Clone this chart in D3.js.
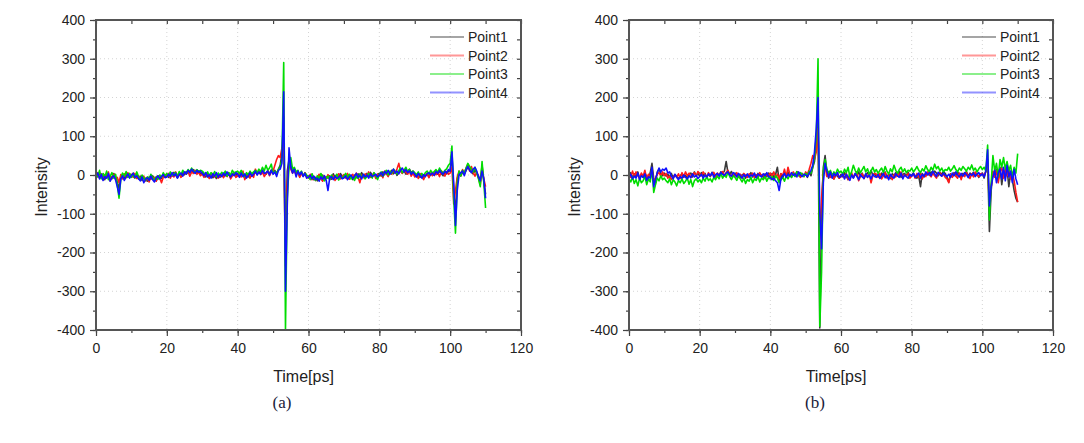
<!DOCTYPE html>
<html>
<head>
<meta charset="utf-8">
<script src="https://cdn.jsdelivr.net/npm/d3@7"></script>
<style>
  body { margin: 0; background: #fff; }
  svg { display: block; font-family: "Liberation Sans", Arial, sans-serif; }
</style>
</head>
<body>
<script>
// sample times, 0 .. 110 ps every 0.5 ps
const time = d3.range(0, 110.25, 0.5);

const seriesNames = ["Point1", "Point2", "Point3", "Point4"];
const seriesColors = ["#3a3a3a", "#ff1a1a", "#00dd00", "#1010ff"];

const xTicks = [0, 20, 40, 60, 80, 100, 120];
const yTicks = [-400, -300, -200, -100, 0, 100, 200, 300, 400];

// panel (a)
const aPoint1 = [
  3,-5,6,-8,2,-12,5,-6,-2,-10, 4,-3,-18,-35,-6,3,-8,4,-5,2,
  -4,5,-7,2,-10,-3,-14,-6,-9,-16, -5,-11,-2,-10,-15,-6,-3,-9,2,-5,
  1,-6,5,-3,7,-1,-7,3,-4,6, 1,9,4,11,7,14,9,5,11,3,
  7,1,-5,4,-3,5,-7,-1,-9,2, -6,1,-4,5,-2,3,-7,1,7,-1,
  4,-3,7,-1,-7,2,-5,6,-3,4, 7,1,9,3,11,5,2,9,4,13,
  6,12,4,15,25,55,150,-200,10,40, 25,8,15,2,10,-4,6,-2,5,-6,
  -3,-10,2,-12,-6,-15,-4,-9,0,-13, -5,-8,-2,-11,3,-6,1,-9,4,-3,
  -6,2,-9,1,-4,-12,0,-7,3,-5, 6,-2,-8,4,-3,7,-1,5,-6,2,
  4,-3,8,1,10,-2,6,12,3,9, -1,7,14,5,11,2,9,15,6,10,
  3,-4,5,-6,1,-8,-2,4,-5,2, 6,-1,8,2,10,4,-2,7,3,9,
  12,50,-40,-100,-10,5,-3,8,2,12, 20,15,8,3,12,6,-2,-18,25,-15,
  -50
];
const aPoint2 = [
  -2,6,-8,3,-12,1,-6,8,-15,-4, 2,-9,-6,-20,1,-10,3,-7,6,-3,
  2,-6,4,-9,-2,-13,-7,-3,-15,-8, -18,-4,-10,-6,-16,-2,-8,-20,-5,1,
  -3,4,-8,2,-5,8,-2,5,-6,-1, 6,2,10,-3,8,4,12,2,7,-2,
  3,-6,5,-2,-9,0,4,-5,2,-8, -3,3,-7,1,-4,6,-10,-2,4,-6,
  -2,6,-5,10,-12,-3,4,-8,2,-6, 15,5,10,1,7,-4,3,12,-2,8,
  10,25,40,50,45,70,85,-235,-20,30, 15,5,12,0,8,-6,4,-3,6,-2,
  -8,2,-12,-4,-14,-6,2,-10,-16,-3, -9,1,-12,-5,-2,-14,-7,3,-10,-4,
  1,-8,4,-11,-3,2,-9,5,-5,-20, 0,-7,3,-4,8,-6,-1,4,-9,2,
  -2,5,-7,10,3,-4,8,2,12,6, 16,30,9,4,14,7,2,10,-3,5,
  -5,2,-9,4,-3,-12,-1,3,-7,5, -2,8,1,6,-4,11,5,-3,9,2,
  5,20,-75,-40,-5,10,0,14,5,18, 28,10,22,6,-3,8,-8,-25,15,-10,
  -30
];
const aPoint3 = [
  8,-4,12,-10,4,-6,10,-12,-3,6, -8,2,-25,-60,-12,5,-3,9,-6,4,
  -6,3,-8,8,-4,-12,0,-8,-14,-5, -10,2,-8,-14,-4,-11,0,-6,6,-2,
  4,-3,8,-1,3,6,-4,9,0,12, 6,3,14,8,18,10,6,14,8,12,
  10,5,2,8,-2,6,0,9,-4,5, -1,7,2,10,-3,6,0,12,4,8,
  10,4,12,2,-4,6,0,10,3,8, 12,6,15,8,20,10,25,12,18,28,
  4,10,2,14,20,40,290,-400,-60,20, 45,15,20,8,12,2,10,-2,5,0,
  -4,-12,3,-8,-14,-2,-10,4,-6,-15, -8,-3,-12,0,-9,-5,2,-13,-4,-8,
  -3,4,-7,2,-10,-5,-14,-2,-9,3, -6,1,-10,-4,4,-2,-8,6,-3,-12,
  2,8,-3,6,12,0,10,4,15,8, 3,11,18,6,12,20,8,14,4,10,
  6,0,8,-4,4,-2,6,10,2,12, 5,9,14,7,18,10,4,12,16,25,
  30,75,-60,-150,-20,10,-2,12,5,18, 30,22,15,8,20,5,-10,-30,35,-20,
  -85
];
const aPoint4 = [
  -3,5,-10,2,-14,-4,-8,4,-16,-6, -2,-12,-30,-50,-10,-2,-14,-5,3,-8,
  -1,4,-6,-2,-9,-15,-5,-20,-11,-7, -14,-3,-12,-18,-8,-2,-10,-4,1,-7,
  -5,2,-4,6,-2,4,-8,1,5,-3, 8,3,12,6,15,9,4,12,7,10,
  4,-2,6,-5,1,-8,3,-3,6,-6, 2,-4,5,-2,8,0,-5,3,-2,6,
  2,-6,5,-4,3,-8,-2,6,-3,2, 10,0,8,2,12,4,6,10,0,12,
  2,8,-4,12,15,30,215,-300,-80,70, 20,5,15,-5,10,0,8,-4,4,-8,
  -6,-1,-10,-3,-12,-8,-16,-5,-11,-2, -14,-40,-7,-4,-12,-3,-9,-6,-1,-10,
  -8,-2,-12,-5,0,-9,-3,4,-6,-1, -10,2,-5,0,-8,3,-4,-1,2,-5,
  0,6,-2,9,4,12,2,8,15,5, 10,3,13,18,8,14,6,11,2,8,
  2,-5,4,-2,-8,1,-4,3,6,0, 5,-1,9,4,12,6,2,10,5,14,
  10,60,-20,-130,-40,0,6,10,-2,14, 22,12,6,15,20,10,-5,-15,10,-10,
  -60
];

// panel (b)
const bPoint1 = [
  -2,6,-8,3,-5,8,-10,2,-6,4, -3,-8,5,30,-10,-20,8,15,4,-2,
  5,-3,2,-6,4,-8,1,-4,-10,-2, 3,-6,-1,-9,2,5,-5,8,-2,4,
  -3,6,-1,4,-6,2,-4,7,0,-5, 3,-2,8,4,10,35,6,2,9,-3,
  5,-4,2,-6,0,3,-8,1,-3,6, -5,2,-7,4,-2,0,-6,3,-4,5,
  -2,4,-6,2,20,-15,3,-8,5,-4, 8,0,-6,6,-3,9,2,-5,4,-2,
  3,-6,8,-2,20,35,80,150,-395,-100, 20,50,5,-8,2,-6,-10,4,-3,-8,
  2,-5,6,-3,-12,4,-1,-7,3,-4, 8,-2,5,-9,1,6,-3,12,-1,4,
  -4,2,-7,5,-2,8,-5,1,-9,3, -1,6,-3,9,-6,2,4,-2,7,-4,
  0,5,-3,-8,-2,-30,4,-5,2,6, -1,8,3,10,5,-2,6,2,9,4,
  -6,-18,3,-4,6,-2,8,1,-5,4, 2,9,-3,5,0,7,-2,4,-6,2,
  5,-8,12,40,-146,-40,8,-5,15,-10, 20,-25,10,-6,15,-30,5,-12,-40,-60,
  -70
];
const bPoint2 = [
  3,-6,10,-4,8,-2,-8,5,-3,12, -10,2,-5,10,-15,-8,2,6,-3,8,
  -2,4,-8,-3,-12,-5,1,-6,3,-9, 6,-4,8,-2,5,-7,2,6,-3,9,
  4,-2,8,1,-5,6,-3,2,7,-4, 5,-1,3,9,-2,6,12,3,-4,5,
  -3,6,-5,2,-8,4,-1,-6,3,-2, 5,-7,1,-4,6,-3,2,-9,4,-1,
  5,-3,8,-6,2,-10,4,-2,15,-5, 20,3,-4,8,-2,6,0,-6,3,-4,
  8,2,15,30,50,40,60,120,-165,-60, 10,25,-4,8,-6,3,-10,-2,5,-8,
  -5,2,-8,4,-12,-3,6,-6,1,8, -15,-4,3,-9,2,-6,4,-20,-3,5,
  2,-6,4,-10,-2,6,-8,3,-4,-12, 1,-5,5,-2,8,-6,0,-3,4,-8,
  -3,2,-8,4,-6,6,-10,1,-4,8, 2,-5,5,-2,-8,3,6,-3,2,-6,
  -10,-20,2,-6,4,-3,-8,5,-12,2, -4,6,-2,-9,3,-5,8,0,-4,3,
  4,-2,8,30,-80,-30,10,-5,12,-20, 8,20,-8,15,-2,20,-10,6,-15,-45,
  -70
];
const bPoint3 = [
  -10,-18,-5,-22,-12,-28,-8,-20,-15,-3, -25,-10,-18,15,-45,-25,-8,-15,-2,-12,
  -8,-15,-20,-10,-25,-12,-18,-28,-14,-20, -10,-22,-16,-8,-24,-12,-30,-15,-10,-18,
  -12,-20,-8,-16,-4,-14,-10,-18,-6,-12, -2,-10,4,-8,0,-6,8,-4,-12,-2,
  -6,-14,-2,-10,-18,-8,-22,-12,-16,-6, -20,-10,-14,-4,-18,-8,-12,-2,-16,-6,
  -10,-4,-14,-2,-8,-20,-12,-6,-16,-2, -10,0,-6,4,-4,8,-2,6,2,-4,
  4,-2,10,5,20,45,100,300,-390,-250, 10,40,15,5,12,-2,8,2,15,6,
  10,2,15,6,20,-4,8,25,12,4, 18,6,14,22,8,16,2,10,20,8,
  14,4,12,18,6,22,10,2,16,8, 25,12,4,14,20,8,16,6,12,10,
  18,8,14,22,12,6,16,10,24,14, 8,20,12,28,16,22,10,18,8,14,
  12,20,10,16,24,14,8,18,12,22, 16,10,20,14,26,12,18,8,16,22,
  14,20,10,77,-116,-20,50,10,30,-5, 40,20,45,15,35,10,25,-5,20,5,
  55
];
const bPoint4 = [
  -5,2,-10,-3,-8,5,-12,-2,-6,3, -14,-5,-8,20,-30,-10,5,18,8,15,
  12,18,5,8,-3,-10,2,-6,-12,-4, -8,0,-6,-10,-2,-7,3,-5,-1,-9,
  -4,2,-8,0,-5,3,-2,6,-6,1, 4,-3,7,2,-1,5,8,0,-3,6,
  2,-5,4,-2,-8,1,-4,3,-6,0, -3,5,-7,2,-1,-5,3,-2,6,-4,
  -6,-12,-8,-15,-20,-40,-10,-2,4,-6, 2,-3,6,-1,3,-5,8,0,-4,2,
  0,-4,5,12,25,60,120,200,-100,-190, -20,30,10,-5,8,-8,4,-2,6,-6,
  -4,3,-10,2,-6,-14,0,-8,4,-3, -12,1,-5,-9,3,-6,-1,-10,2,-4,
  -6,1,-9,-3,4,-7,-1,-12,2,-5, -8,3,-2,-6,5,-10,0,-4,-8,2,
  -3,4,-6,-1,5,-8,2,-4,8,0, 6,-2,10,3,-4,7,1,-3,5,-1,
  -4,2,-6,5,-2,8,0,-5,4,-3, 6,1,-7,3,-1,5,-4,2,6,-2,
  3,-5,10,65,-80,-30,-5,12,-20,5, 15,-10,20,-15,25,-5,10,-20,15,-10,
  -25
];

const width = 1084, height = 443;
const plotTop = 20, plotBottom = 330;

const svg = d3.select("body").append("svg")
  .attr("width", width)
  .attr("height", height);

svg.append("rect").attr("width", width).attr("height", height).attr("fill", "#fff");

const panels = [
  { left: 96, right: 521, tag: "(a)", tagX: 282, data: [aPoint1, aPoint2, aPoint3, aPoint4] },
  { left: 629, right: 1053, tag: "(b)", tagX: 815, data: [bPoint1, bPoint2, bPoint3, bPoint4] }
];

const plainNum = d => String(d);

panels.forEach(p => {
  const x = d3.scaleLinear().domain([0, 120]).range([p.left, p.right]);
  const y = d3.scaleLinear().domain([-400, 400]).range([plotBottom, plotTop]);
  const g = svg.append("g");

  // dotted grid at major ticks
  g.selectAll(".gx").data(xTicks.slice(1, -1)).join("line")
    .attr("x1", d => x(d)).attr("x2", d => x(d))
    .attr("y1", plotTop).attr("y2", plotBottom)
    .attr("stroke", "#d4d4d4").attr("stroke-width", 1)
    .attr("stroke-dasharray", "1,3");
  g.selectAll(".gy").data(yTicks.slice(1, -1)).join("line")
    .attr("x1", p.left).attr("x2", p.right)
    .attr("y1", d => y(d)).attr("y2", d => y(d))
    .attr("stroke", "#d4d4d4").attr("stroke-width", 1)
    .attr("stroke-dasharray", "1,3");

  // traces
  const line = d3.line().x(d => x(d[0])).y(d => y(d[1]));
  p.data.forEach((vals, i) => {
    g.append("path")
      .datum(vals.map((v, k) => [time[k], v]))
      .attr("fill", "none")
      .attr("stroke", seriesColors[i])
      .attr("stroke-width", 1.6)
      .attr("stroke-linejoin", "round")
      .attr("d", line);
  });

  // axes
  const minorX = d3.range(0, 121, 10);
  const minorY = d3.range(-400, 401, 50);

  const styleAxis = sel => {
    sel.select(".domain").remove();
    sel.selectAll("line").attr("stroke", "#444").attr("stroke-width", 1.2);
    sel.selectAll("text").attr("fill", "#222").style("font-size", "14px")
      .style("font-family", "'Liberation Sans', Arial, sans-serif");
  };

  g.append("g").attr("transform", `translate(0,${plotBottom})`)
    .call(d3.axisBottom(x).tickValues(minorX).tickSize(3).tickFormat(""))
    .call(styleAxis);
  g.append("g").attr("transform", `translate(0,${plotBottom})`)
    .call(d3.axisBottom(x).tickValues(xTicks).tickSize(6).tickPadding(7).tickFormat(plainNum))
    .call(styleAxis);

  g.append("g").attr("transform", `translate(${p.left},0)`)
    .call(d3.axisLeft(y).tickValues(minorY).tickSize(3).tickFormat(""))
    .call(styleAxis);
  g.append("g").attr("transform", `translate(${p.left},0)`)
    .call(d3.axisLeft(y).tickValues(yTicks).tickSize(6).tickPadding(5).tickFormat(plainNum))
    .call(styleAxis);

  g.append("g").attr("transform", `translate(0,${plotTop})`)
    .call(d3.axisTop(x).tickValues(minorX).tickSize(-4).tickFormat(""))
    .call(styleAxis);
  g.append("g").attr("transform", `translate(${p.right},0)`)
    .call(d3.axisRight(y).tickValues(minorY).tickSize(-4).tickFormat(""))
    .call(styleAxis);

  // frame
  g.append("rect")
    .attr("x", p.left).attr("y", plotTop)
    .attr("width", p.right - p.left).attr("height", plotBottom - plotTop)
    .attr("fill", "none").attr("stroke", "#555").attr("stroke-width", 2);

  // legend
  const leg = g.append("g");
  seriesNames.forEach((name, i) => {
    const ly = 37 + i * 18.5;
    leg.append("line")
      .attr("x1", p.right - 91).attr("x2", p.right - 57)
      .attr("y1", ly).attr("y2", ly)
      .attr("stroke", seriesColors[i]).attr("stroke-width", 2)
      .attr("opacity", 0.45);
    leg.append("text")
      .attr("x", p.right - 53).attr("y", ly + 5)
      .attr("fill", "#222").style("font-size", "14px")
      .text(name);
  });

  // titles
  g.append("text")
    .attr("transform", `translate(${p.left - 49},187) rotate(-90)`)
    .attr("text-anchor", "middle")
    .attr("fill", "#222").style("font-size", "16px")
    .text("Intensity");
  g.append("text")
    .attr("x", (p.left + p.right) / 2 - 5).attr("y", 382)
    .attr("text-anchor", "middle")
    .attr("fill", "#222").style("font-size", "16px")
    .text("Time[ps]");
  g.append("text")
    .attr("x", p.tagX).attr("y", 408)
    .attr("text-anchor", "middle")
    .attr("fill", "#1b1b3a")
    .style("font-family", "'Liberation Serif', 'Times New Roman', serif")
    .style("font-size", "17px")
    .text(p.tag);
});
</script>
</body>
</html>
